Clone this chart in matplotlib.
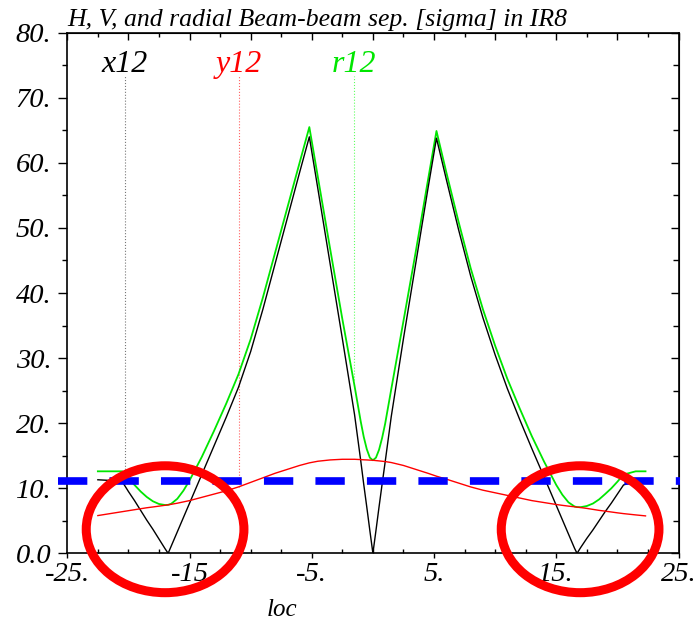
import matplotlib
matplotlib.use("Agg")
import matplotlib.pyplot as plt
from matplotlib.patches import Ellipse
from matplotlib.ticker import FixedFormatter, FixedLocator, MultipleLocator

# longitudinal position around IR8 [m]
loc = [-22.5, -21.5, -20.5, -20.0, -19.5, -19.0, -18.5, -18.0, -17.5, -17.0,
       -16.75, -16.5, -16.0, -15.5, -15.0, -14.0, -13.0, -12.0, -11.0, -10.0,
       -9.0, -8.0, -7.0, -6.0, -5.2, -4.5, -3.5, -2.5, -1.5, -1.0,
       -0.75, -0.5, -0.25, 0.0, 0.25, 0.5, 0.75, 1.0, 1.5, 2.5,
       3.5, 4.5, 5.2, 6.0, 7.0, 8.0, 9.0, 10.0, 11.0, 12.0,
       13.0, 14.0, 15.0, 15.5, 16.0, 16.5, 16.7, 17.0, 17.5, 18.0,
       18.5, 19.0, 19.5, 20.0, 20.5, 21.5, 22.3]

# horizontal separation [sigma]
x12 = [11.3, 11.2, 11.0, 9.5, 8.1, 6.6, 5.1, 3.7, 2.2, 0.7,
       0.0, 1.1, 3.3, 5.5, 7.7, 12.1, 16.5, 20.9, 25.5, 31.0,
       37.5, 44.5, 51.5, 58.5, 64.0, 56.0, 44.5, 33.0, 21.3, 14.3,
       10.6, 7.1, 3.5, 0.0, 3.5, 7.1, 10.6, 14.0, 21.0, 33.0,
       44.5, 56.0, 63.8, 57.5, 49.8, 42.6, 36.2, 30.5, 25.3, 20.6,
       16.1, 11.75, 7.35, 5.15, 2.95, 0.75, 0.0, 0.9, 2.3, 3.6,
       5.0, 6.4, 7.7, 9.1, 10.5, 11.1, 11.2]

# vertical separation [sigma]
y12 = [5.8, 6.1, 6.4, 6.55, 6.7, 6.85, 7.0, 7.12, 7.25, 7.38,
       7.45, 7.53, 7.7, 7.9, 8.1, 8.6, 9.1, 9.6, 10.2, 10.9,
       11.6, 12.3, 12.9, 13.5, 13.9, 14.15, 14.35, 14.45, 14.45, 14.4,
       14.37, 14.35, 14.32, 14.3, 14.25, 14.2, 14.15, 14.1, 13.95, 13.5,
       12.9, 12.3, 11.85, 11.4, 10.8, 10.2, 9.7, 9.3, 8.9, 8.5,
       8.1, 7.8, 7.5, 7.37, 7.25, 7.15, 7.1, 7.03, 6.9, 6.75,
       6.6, 6.48, 6.35, 6.22, 6.1, 5.9, 5.75]

# radial separation [sigma]
r12 = [12.6, 12.6, 12.6, 11.5, 10.5, 9.5, 8.66, 8.0, 7.58, 7.42,
       7.45, 7.61, 8.38, 9.63, 11.2, 14.8, 18.8, 23.0, 27.5, 32.9,
       39.3, 46.2, 53.1, 60.0, 65.5, 57.8, 46.8, 36.0, 25.7, 20.3,
       17.9, 16.0, 14.7, 14.3, 14.7, 15.9, 17.7, 19.9, 25.2, 35.7,
       46.3, 57.3, 64.9, 58.6, 51.0, 43.8, 37.5, 31.9, 26.8, 22.3,
       18.0, 14.1, 10.5, 8.99, 7.83, 7.19, 7.1, 7.09, 7.27, 7.65,
       8.28, 9.11, 9.98, 11.0, 12.1, 12.6, 12.6]

label_names = ["x12", "y12", "r12"]
label_loc = [-20.3, -10.97, -1.58]
label_bottom = [10.6, 10.2, 26.6]
label_top = 73.4
label_level = 73.9

limit_sep = 11.06
limit_span = [-25.8, 25.1]

circle_loc = [-17.0, 16.95]
circle_sep = 3.7

x_ticks = [-25, -15, -5, 5, 15, 25]
x_tick_labels = ["-25.", "-15", "-5.", "5.", "15.", "25."]
y_ticks = [0, 10, 20, 30, 40, 50, 60, 70, 80]
y_tick_labels = ["0.0", "10.", "20.", "30.", "40.", "50.", "60.", "70.", "80."]

title = "H, V, and radial Beam-beam sep. [sigma] in IR8"

plt.rcParams["font.family"] = ["Liberation Serif", "DejaVu Serif"]
plt.rcParams["font.style"] = "italic"

colors = ["black", "#ff0000", "#00e600"]
dot_colors = ["#777777", "#ff6060", "#60ff60"]

fig = plt.figure(figsize=(6.93, 6.21), dpi=100)
ax = fig.add_axes([0.0971, 0.109, 0.882, 0.8383])

ax.plot(loc, x12, color=colors[0], lw=1.0, zorder=3)
ax.plot(loc, y12, color=colors[1], lw=1.0, zorder=3)
ax.plot(loc, r12, color=colors[2], lw=1.3, zorder=2)

ax.vlines(label_loc, label_bottom, label_top, colors=dot_colors,
          linestyles=":", linewidth=0.8, zorder=1)
for name, x, c in zip(label_names, label_loc, colors):
    ax.text(x, label_level, name, ha="center", va="baseline",
            color=c, fontsize=23)

ax.plot(limit_span, [limit_sep, limit_sep], color="#0000ff", lw=5.5,
        dashes=(3.84, 2.9), dash_capstyle="butt", clip_on=False, zorder=5)

for cx in circle_loc:
    ax.add_patch(Ellipse((cx, circle_sep), 12.9, 19.5, fill=False,
                         edgecolor="#ff0000", lw=6.5, clip_on=False, zorder=10))

ax.set_xlim(-25, 25)
ax.set_ylim(0, 80)

ax.xaxis.set_major_locator(FixedLocator(x_ticks))
ax.xaxis.set_major_formatter(FixedFormatter(x_tick_labels))
ax.xaxis.set_minor_locator(MultipleLocator(2.5))
ax.yaxis.set_major_locator(FixedLocator(y_ticks))
ax.yaxis.set_major_formatter(FixedFormatter(y_tick_labels))
ax.yaxis.set_minor_locator(MultipleLocator(5))

ax.tick_params(axis="x", which="major", direction="out", length=3.6,
               width=1.0, labelsize=20.5, pad=3)
ax.tick_params(axis="x", which="minor", direction="in", length=3.0, width=1.0)
ax.tick_params(axis="y", which="major", direction="out", length=6.5,
               width=1.0, labelsize=20.5, pad=5)
ax.tick_params(axis="y", which="minor", direction="out", length=3.6, width=1.0)

top = ax.secondary_xaxis("top")
top.xaxis.set_major_locator(MultipleLocator(5))
top.xaxis.set_minor_locator(MultipleLocator(2.5))
top.tick_params(which="major", direction="in", length=4.8, width=1.0, labeltop=False)
top.tick_params(which="minor", direction="in", length=3.2, width=1.0)

right = ax.secondary_yaxis("right")
right.yaxis.set_major_locator(MultipleLocator(10))
right.yaxis.set_minor_locator(MultipleLocator(5))
right.tick_params(which="major", direction="in", length=5.8, width=1.0, labelright=False)
right.tick_params(which="minor", direction="in", length=4.0, width=1.0)

for spine in ax.spines.values():
    spine.set_linewidth(1.2)

fig.text(67 / 693, 1 - 26 / 621, title, ha="left", va="baseline", fontsize=18.5)
fig.text(282 / 693, 1 - 616 / 621, "loc", ha="center", va="baseline", fontsize=18)

fig.savefig("out.png", dpi=100)
